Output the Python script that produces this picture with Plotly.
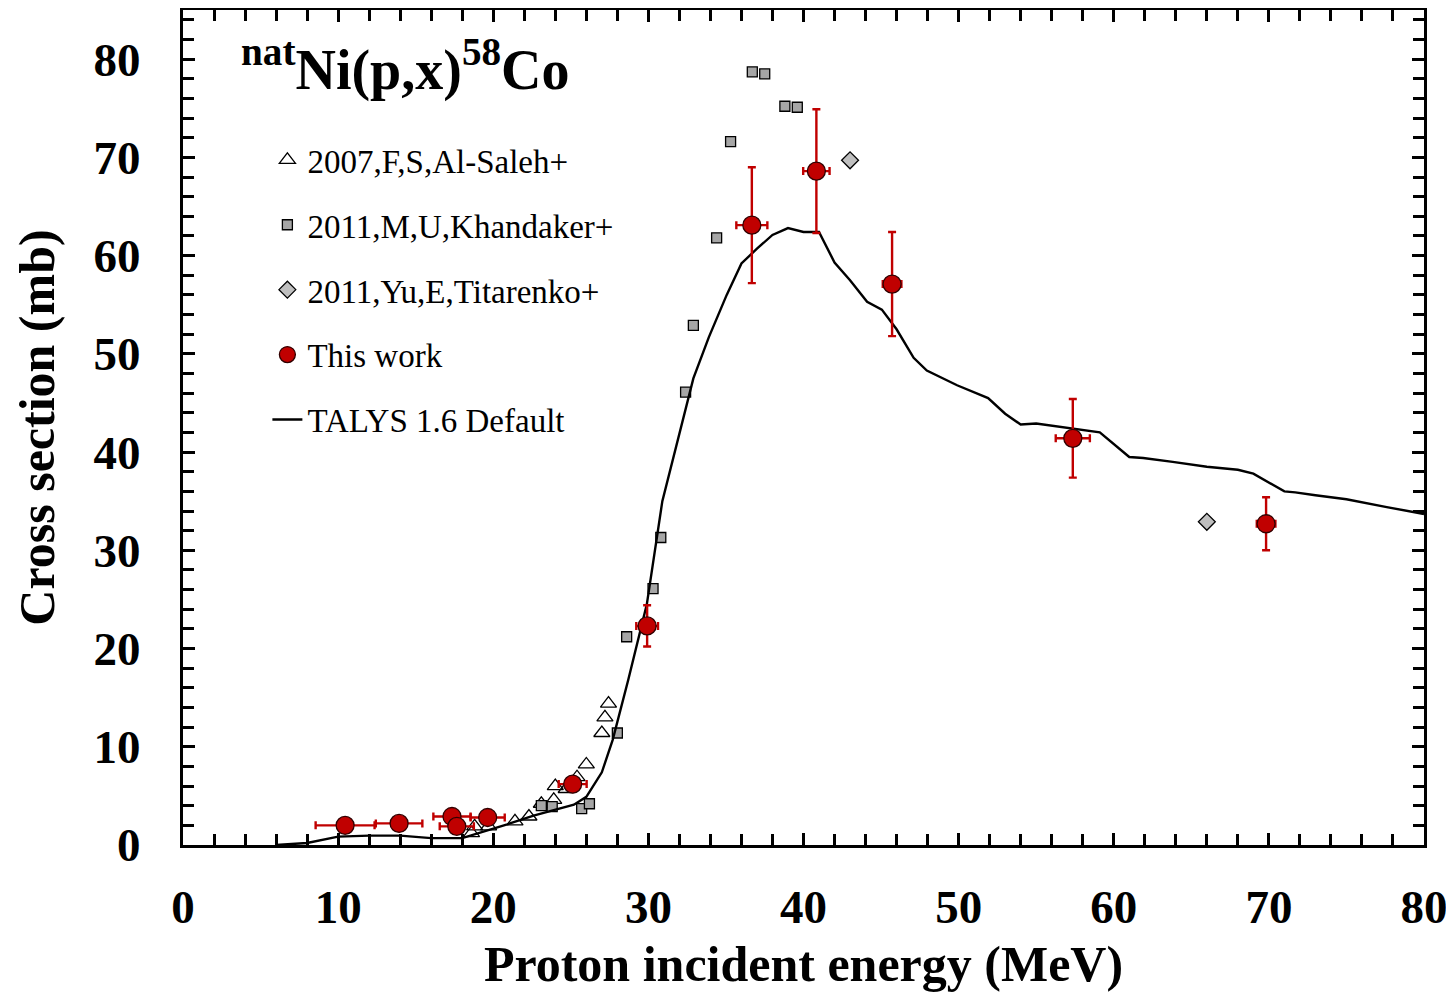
import plotly.graph_objects as go

# This work
work_e = [10.45, 13.93, 17.34, 17.65, 19.64, 25.12, 29.92, 36.67, 40.83, 45.71, 57.36, 69.82]
work_de = [1.9, 1.5, 1.2, 1.1, 1.1, 0.9, 0.7, 1.0, 0.85, 0.6, 1.1, 0.6]
work_xs = [2.0, 2.2, 2.9, 1.9, 2.8, 6.2, 22.3, 63.1, 68.6, 57.1, 41.4, 32.7]
work_dxs = [0.2, 0.2, 0.2, 0.2, 0.2, 0.4, 2.1, 5.9, 6.3, 5.3, 4.0, 2.7]

# 2007, F.S. Al-Saleh
saleh_e = [18.6, 18.8, 19.7, 21.4, 22.3, 23.1, 23.9, 24.0, 24.7, 25.4, 26.0, 27.0, 27.2, 27.43]
saleh_xs = [1.2, 1.9, 1.9, 2.4, 2.9, 4.2, 4.6, 6.0, 5.7, 6.9, 8.2, 11.4, 13.0, 14.4]

# 2011, M.U. Khandaker
khan_e = [23.1, 23.8, 25.7, 26.2, 28.0, 28.6, 30.3, 30.8, 32.4, 32.9, 34.4, 35.3, 36.7, 37.5, 38.8, 39.6]
khan_xs = [4.0, 3.9, 3.7, 4.2, 11.4, 21.2, 26.1, 31.3, 46.1, 52.9, 61.8, 71.6, 78.7, 78.5, 75.2, 75.1]

# 2011, Yu.E. Titarenko
tit_e = [43.0, 66.0]
tit_xs = [69.7, 32.9]

# TALYS 1.6 default
talys_e = [6.0, 8.0, 10.0, 12.0, 14.0, 16.0, 18.0, 19.4, 20.9, 22.6, 24.1, 25.2, 26.0, 27.0,
           27.7, 28.7, 29.9, 30.9, 32.9, 33.9, 35.05, 36.0, 37.0, 38.0, 39.0, 40.0, 41.0,
           42.0, 43.0, 44.1, 45.05, 46.0, 47.1, 47.95, 49.9, 51.9, 53.0, 54.0, 55.0, 55.9,
           59.1, 61.0, 61.9, 63.8, 66.0, 68.0, 69.0, 71.0, 71.7, 73.0, 75.0, 77.6, 80.0]
talys_xs = [0.0, 0.2, 0.85, 0.95, 0.95, 0.7, 0.7, 1.35, 2.1, 3.0, 3.6, 4.1, 4.9, 7.4,
            10.7, 16.8, 24.5, 35.0, 47.5, 51.7, 56.0, 59.2, 60.7, 62.1, 62.8, 62.4, 62.4,
            59.3, 57.5, 55.3, 54.5, 52.5, 49.6, 48.3, 46.8, 45.5, 43.9, 42.8, 42.9, 42.7,
            42.0, 39.5, 39.4, 39.0, 38.5, 38.2, 37.8, 36.0, 35.9, 35.6, 35.2, 34.4, 33.7]

RED = "#C00000"
SERIF = "Liberation Serif, Times New Roman, serif"

fig = go.Figure()

fig.add_trace(go.Scatter(
    x=saleh_e, y=saleh_xs, mode="markers", name="2007,F,S,Al-Saleh+",
    legendgroup="a", legendrank=1001,
    marker=dict(symbol="triangle-up-open", size=14, color="black", line=dict(width=1.3)),
))
fig.add_trace(go.Scatter(
    x=khan_e, y=khan_xs, mode="markers", name="2011,M,U,Khandaker+",
    legendgroup="b", legendrank=1002,
    marker=dict(symbol="square", size=10, color="#A6A6A6", line=dict(color="black", width=1.3)),
))
fig.add_trace(go.Scatter(
    x=tit_e, y=tit_xs, mode="markers", name="2011,Yu,E,Titarenko+",
    legendgroup="c", legendrank=1003,
    marker=dict(symbol="diamond", size=13, color="#BFBFBF", line=dict(color="black", width=1.3)),
))
fig.add_trace(go.Scatter(
    x=talys_e, y=talys_xs, mode="lines", name="TALYS 1.6 Default",
    legendgroup="e", legendrank=1005,
    line=dict(color="black", width=2.4),
))
fig.add_trace(go.Scatter(
    x=work_e, y=work_xs, mode="markers", name="This work",
    legendgroup="d", legendrank=1004,
    error_x=dict(type="data", array=work_de, color=RED, thickness=2.4, width=4),
    error_y=dict(type="data", array=work_dxs, color=RED, thickness=2.4, width=4),
    marker=dict(symbol="circle", size=18, color=RED, line=dict(color="#300000", width=1.3)),
))

fig.add_annotation(
    x=0.045, y=0.978, xref="paper", yref="paper", xanchor="left", yanchor="top",
    text="<b><sup>nat</sup>Ni(p,x)<sup>58</sup>Co</b>", showarrow=False,
    font=dict(family=SERIF, size=56, color="black"),
)

axis_common = dict(
    showline=True, linecolor="black", linewidth=3, mirror="ticks",
    ticks="inside", ticklen=12, tickwidth=2.5, tickcolor="black",
    showgrid=False, zeroline=False, automargin=False,
    tickfont=dict(family=SERIF, size=47, color="black", weight="bold"),
    title_font=dict(family=SERIF, size=50, color="black", weight="bold"),
)

fig.update_xaxes(
    range=[0, 80], tickvals=[0, 10, 20, 30, 40, 50, 60, 70, 80],
    minor=dict(dtick=2, ticks="inside", ticklen=11, tickwidth=2.5, tickcolor="black"),
    title_text="Proton incident energy (MeV)", title_standoff=14,
    ticklabelstandoff=19,
    **axis_common,
)
fig.update_yaxes(
    range=[0, 85], tickvals=[0, 10, 20, 30, 40, 50, 60, 70, 80],
    minor=dict(dtick=2, ticks="inside", ticklen=11, tickwidth=2.5, tickcolor="black"),
    title_text="Cross section (mb)", title_standoff=24,
    ticklabelstandoff=30,
    **axis_common,
)

fig.update_layout(
    width=1454, height=993,
    margin=dict(l=175, r=38, t=2, b=156),
    plot_bgcolor="white", paper_bgcolor="white",
    showlegend=True,
    legend=dict(
        x=0.068, y=0.854, xanchor="left", yanchor="top",
        bgcolor="rgba(0,0,0,0)", borderwidth=0,
        font=dict(family=SERIF, size=33, color="black"),
        tracegroupgap=19, itemwidth=30,
    ),
)

fig.write_html("out.html")
